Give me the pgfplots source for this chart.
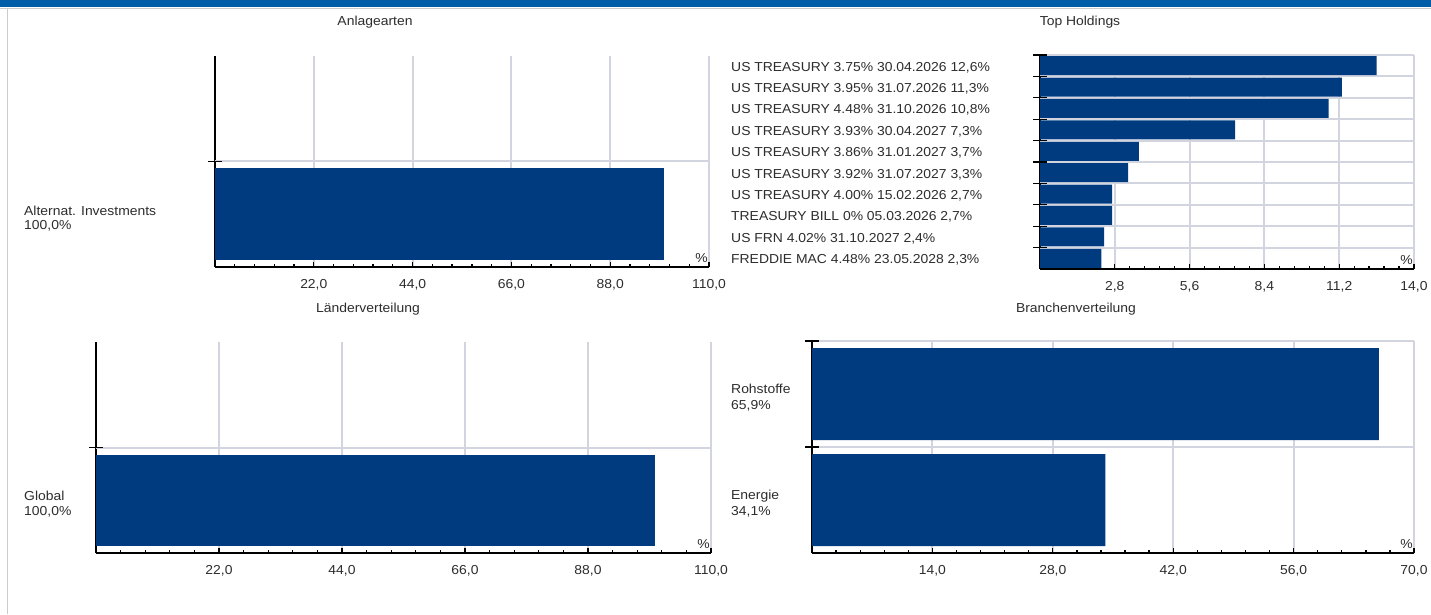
\documentclass[border=0pt]{standalone}
\usepackage{fontspec}
\setmainfont{Liberation Sans}[FakeStretch=1.07]
\usepackage{pgfplots}
\pgfplotsset{compat=1.18}
\definecolor{barblue}{RGB}{0,59,128}
\definecolor{gridc}{RGB}{210,213,224}
\definecolor{txt}{RGB}{45,45,45}
\definecolor{hdr}{RGB}{0,94,168}
\newcommand{\f}{\fontsize{13}{15}\selectfont}
\pgfplotsset{
  hb/.style={
    scale only axis,
    xbar, bar width=#1,
    axis lines=left,
    axis line style={-, black, line width=1.6pt},
    xmin=0, ymin=-0.5,
    xmajorgrids,
    major grid style={gridc, line width=2pt},
    ytick=\empty,
    xtick align=inside,
    major tick length=5pt, minor tick length=3pt,
    tick style={black, line width=1.3pt},
    xticklabel style={font=\f, text=txt, yshift=-9pt,
      /pgf/number format/fixed, /pgf/number format/fixed zerofill,
      /pgf/number format/precision=1, /pgf/number format/use comma,
      /pgf/number format/assume math mode=true},
    extra y tick style={major tick length=14pt, tick align=center, grid=major},
    extra y tick labels={},
    clip=false,
  },
}
\tikzset{
  pct/.style={anchor=south east, font=\f, text=txt, inner sep=0pt},
  lab/.style={anchor=base west, font=\f, text=txt, inner sep=0pt},
}
\begin{document}
\begin{tikzpicture}[x=1pt,y=1pt]
\path[use as bounding box] (0,0) rectangle (1431,614);
\fill[white] (0,0) rectangle (1431,614);
\fill[hdr] (0,606.5) rectangle (1431,614);
\draw[gray!40, line width=1pt] (0,605.5) -- (1431,605.5);
\draw[gray!40, line width=1pt] (7.5,0) -- (7.5,606);
% titles
\node[anchor=base, font=\f, text=txt] at (375,588.3) {Anlagearten};
\node[anchor=base, font=\f, text=txt] at (1080,588.3) {Top Holdings};
\node[anchor=base, font=\f, text=txt] at (368,302) {Länderverteilung};
\node[anchor=base, font=\f, text=txt] at (1076,302) {Branchenverteilung};

% Anlagearten
\begin{axis}[hb=92pt, at={(215pt,347pt)}, anchor=south west,
  width=494pt, height=211pt, xmax=110, ymax=1.5,
  xtick={22,44,66,88,110}, minor xtick={0,4.4,...,110},
  extra y ticks={0.5}]
\addplot[draw=none, fill=barblue] coordinates {(100,0)};
\node[lab] at ([xshift=-191pt, yshift=-1pt]axis cs:0,0) {Alternat. Investments};
\node[lab] at ([xshift=-191pt, yshift=-15.5pt]axis cs:0,0) {100,0\%};
\node[pct] at ([xshift=-1pt, yshift=4pt]rel axis cs:1,0) {\%};
\end{axis}

% Top Holdings
\begin{axis}[hb=19pt, at={(1040pt,345pt)}, anchor=south west,
  width=374pt, height=214pt, xmax=14, ymax=9.5,
  xtick={2.8,5.6,8.4,11.2,14}, minor xtick={0,0.56,...,14},
  extra y ticks={0.5,1.5,2.5,3.5,4.5,5.5,6.5,7.5,8.5,9.5}]
\addplot[draw=none, fill=barblue] coordinates {
  (12.6,9) (11.3,8) (10.8,7) (7.3,6) (3.7,5) (3.3,4) (2.7,3) (2.7,2) (2.4,1) (2.3,0)};
\node[lab] at ([xshift=-309pt, yshift=-5.5pt]axis cs:0,9) {US TREASURY 3.75\% 30.04.2026 12,6\%};
\node[lab] at ([xshift=-309pt, yshift=-5.5pt]axis cs:0,8) {US TREASURY 3.95\% 31.07.2026 11,3\%};
\node[lab] at ([xshift=-309pt, yshift=-5.5pt]axis cs:0,7) {US TREASURY 4.48\% 31.10.2026 10,8\%};
\node[lab] at ([xshift=-309pt, yshift=-5.5pt]axis cs:0,6) {US TREASURY 3.93\% 30.04.2027 7,3\%};
\node[lab] at ([xshift=-309pt, yshift=-5.5pt]axis cs:0,5) {US TREASURY 3.86\% 31.01.2027 3,7\%};
\node[lab] at ([xshift=-309pt, yshift=-5.5pt]axis cs:0,4) {US TREASURY 3.92\% 31.07.2027 3,3\%};
\node[lab] at ([xshift=-309pt, yshift=-5.5pt]axis cs:0,3) {US TREASURY 4.00\% 15.02.2026 2,7\%};
\node[lab] at ([xshift=-309pt, yshift=-5.5pt]axis cs:0,2) {TREASURY BILL 0\% 05.03.2026 2,7\%};
\node[lab] at ([xshift=-309pt, yshift=-5.5pt]axis cs:0,1) {US FRN 4.02\% 31.10.2027 2,4\%};
\node[lab] at ([xshift=-309pt, yshift=-5.5pt]axis cs:0,0) {FREDDIE MAC 4.48\% 23.05.2028 2,3\%};
\node[pct] at ([xshift=-1pt, yshift=4pt]rel axis cs:1,0) {\%};
\end{axis}

% Länderverteilung
\begin{axis}[hb=91pt, at={(96pt,61pt)}, anchor=south west,
  width=615pt, height=211pt, xmax=110, ymax=1.5,
  xtick={22,44,66,88,110}, minor xtick={0,4.4,...,110},
  extra y ticks={0.5}]
\addplot[draw=none, fill=barblue] coordinates {(100,0)};
\node[lab] at ([xshift=-72pt, yshift=0pt]axis cs:0,0) {Global};
\node[lab] at ([xshift=-72pt, yshift=-15pt]axis cs:0,0) {100,0\%};
\node[pct] at ([xshift=-1pt, yshift=4pt]rel axis cs:1,0) {\%};
\end{axis}

% Branchenverteilung
\begin{axis}[hb=92pt, at={(812pt,61pt)}, anchor=south west,
  width=602pt, height=212pt, xmax=70, ymax=1.5,
  xtick={14,28,42,56,70}, minor xtick={0,2.8,...,70},
  extra y ticks={0.5,1.5}]
\addplot[draw=none, fill=barblue] coordinates {(65.9,1) (34.1,0)};
\node[lab] at ([xshift=-81pt, yshift=0.5pt]axis cs:0,1) {Rohstoffe};
\node[lab] at ([xshift=-81pt, yshift=-15pt]axis cs:0,1) {65,9\%};
\node[lab] at ([xshift=-81pt, yshift=0.5pt]axis cs:0,0) {Energie};
\node[lab] at ([xshift=-81pt, yshift=-15pt]axis cs:0,0) {34,1\%};
\node[pct] at ([xshift=-1pt, yshift=4pt]rel axis cs:1,0) {\%};
\end{axis}
\end{tikzpicture}
\end{document}
